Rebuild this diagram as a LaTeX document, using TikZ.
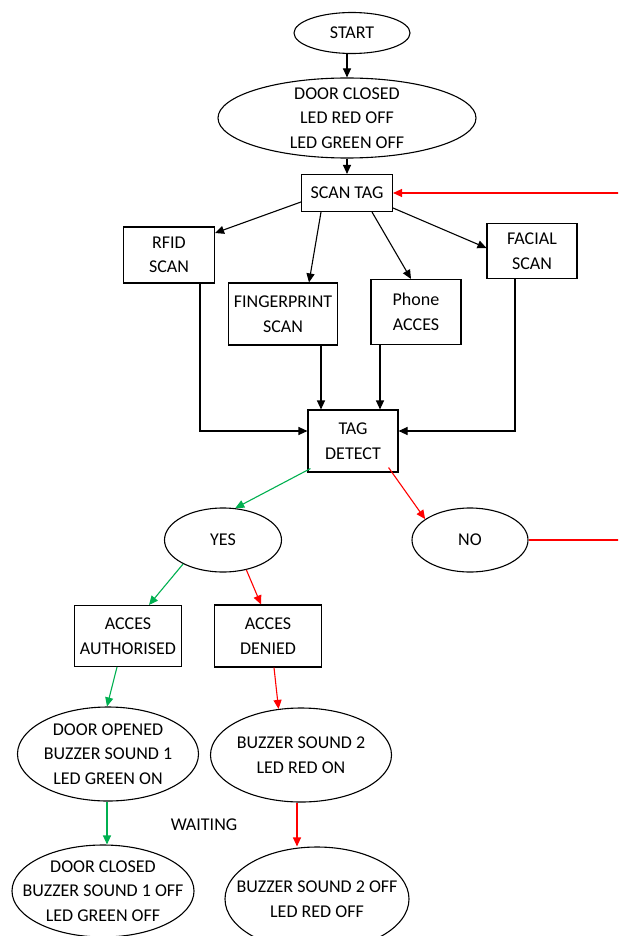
\documentclass[tikz,border=0pt]{standalone}
\usepackage{fontspec}
\setmainfont{Carlito}
\usepackage{tikz}
\usetikzlibrary{shapes, arrows.meta, positioning}
\definecolor{okgreen}{HTML}{00B050}
\tikzstyle{block}=[draw,fill=white,rectangle,align=center,inner sep=0pt]
\tikzstyle{state}=[draw,fill=white,ellipse,align=center,inner xsep=-18pt,inner ysep=-3pt]
\tikzstyle{every node}=[font=\fontsize{18}{24.5}\selectfont]

\begin{document}
\begin{tikzpicture}[x=1pt,y=-1pt,>={Triangle[length=9pt,width=8pt]},line width=1.1pt]
  \clip (0,0) rectangle (618,936);
  \node[state,minimum width=116pt,minimum height=41pt] (start) at (352,33) {START};
  \node[state,below of=start,node distance=85pt,xshift=-5pt,minimum width=258pt,minimum height=80pt] (closed) {DOOR CLOSED\\LED RED OFF\\LED GREEN OFF};
  \node[block,below of=closed,node distance=75pt,minimum width=91pt,minimum height=37pt] (scantag) {SCAN TAG};
  \node[block,below of=scantag,node distance=62pt,xshift=-178pt,minimum width=91pt,minimum height=56pt] (rfid) {RFID\\SCAN};
  \node[block,below of=scantag,node distance=121pt,xshift=-64pt,minimum width=109pt,minimum height=62pt] (finger) {FINGERPRINT\\SCAN};
  \node[block,below of=scantag,node distance=119pt,xshift=69pt,minimum width=90pt,minimum height=65pt] (phone) {Phone\\ACCES};
  \node[block,below of=scantag,node distance=58pt,xshift=185pt,minimum width=90pt,minimum height=55pt] (facial) {FACIAL\\SCAN};
  \node[block,below of=scantag,node distance=248pt,xshift=6pt,minimum width=90pt,minimum height=62pt] (detect) {TAG\\DETECT};
  \node[state,below of=detect,node distance=99pt,xshift=-130pt,minimum width=117pt,minimum height=64pt] (yes) {YES};
  \node[state,right of=yes,node distance=247pt,minimum width=116pt,minimum height=64pt] (no) {NO};
  \node[block,below of=yes,node distance=96pt,xshift=-95pt,minimum width=107pt,minimum height=61pt] (auth) {ACCES\\AUTHORISED};
  \node[block,right of=auth,node distance=140pt,minimum width=107pt,minimum height=62pt] (denied) {ACCES\\DENIED};
  \node[state,below of=auth,node distance=118pt,xshift=-20pt,minimum width=181pt,minimum height=94pt] (dooropen) {DOOR OPENED\\BUZZER SOUND 1\\LED GREEN ON};
  \node[state,below of=denied,node distance=119pt,xshift=33pt,minimum width=181pt,minimum height=94pt] (buzzon) {BUZZER SOUND 2\\LED RED ON};
  \node[state,below of=dooropen,node distance=137pt,xshift=-5pt,minimum width=182pt,minimum height=92pt] (doorclosed) {DOOR CLOSED\\BUZZER SOUND 1 OFF\\LED GREEN OFF};
  \node[state,below of=buzzon,node distance=144pt,xshift=16pt,minimum width=184pt,minimum height=104pt] (buzzoff) {BUZZER SOUND 2 OFF\\LED RED OFF};
  \node (waiting) at (204,825) {WAITING};
  \draw[->] (start.south -| closed.north) -- (closed.north);
  \draw[->] (closed) -- (scantag);
  \draw[->] ([yshift=-9pt]scantag.west) -- ([yshift=22pt]rfid.east);
  \draw[->] ([xshift=-26pt]scantag.south) -- ([xshift=26pt]finger.north);
  \draw[->] ([xshift=25pt]scantag.south) -- ([xshift=-5pt]phone.north);
  \draw[->] ([yshift=-15pt]scantag.east) -- ([yshift=3pt]facial.west);
  \draw[->] ([xshift=31pt]rfid.south) |- ([yshift=10pt]detect.west);
  \draw[->] ([xshift=38pt]finger.south) -- ([xshift=-32pt]detect.north);
  \draw[->] ([xshift=-36pt]phone.south) -- ([xshift=27pt]detect.north);
  \draw[->] ([xshift=-17pt]facial.south) |- ([yshift=10pt]detect.east);
  \draw[okgreen,->] ([xshift=3pt,yshift=4pt]detect.south west) -- (yes.69);
  \draw[red,->] ([xshift=-10pt,yshift=5pt]detect.south east) -- (no.155);
  \draw[red,->] (no.east) -- ++(100,0) |- (scantag.east);
  \draw[okgreen,->] (yes.211) -- ([xshift=21pt]auth.north);
  \draw[red,->] (yes.308) -- ([xshift=-7pt]denied.north);
  \draw[okgreen,->] ([xshift=-11pt]auth.south) -- ([xshift=-1pt]dooropen.north);
  \draw[red,->] ([xshift=6pt]denied.south) -- (buzzon.116);
  \draw[okgreen,->] ([xshift=-1pt]dooropen.south) -- ([xshift=4pt]doorclosed.north);
  \draw[red,->] ([xshift=-4pt]buzzon.south) -- ([xshift=-20pt]buzzoff.north);
\end{tikzpicture}
\end{document}
